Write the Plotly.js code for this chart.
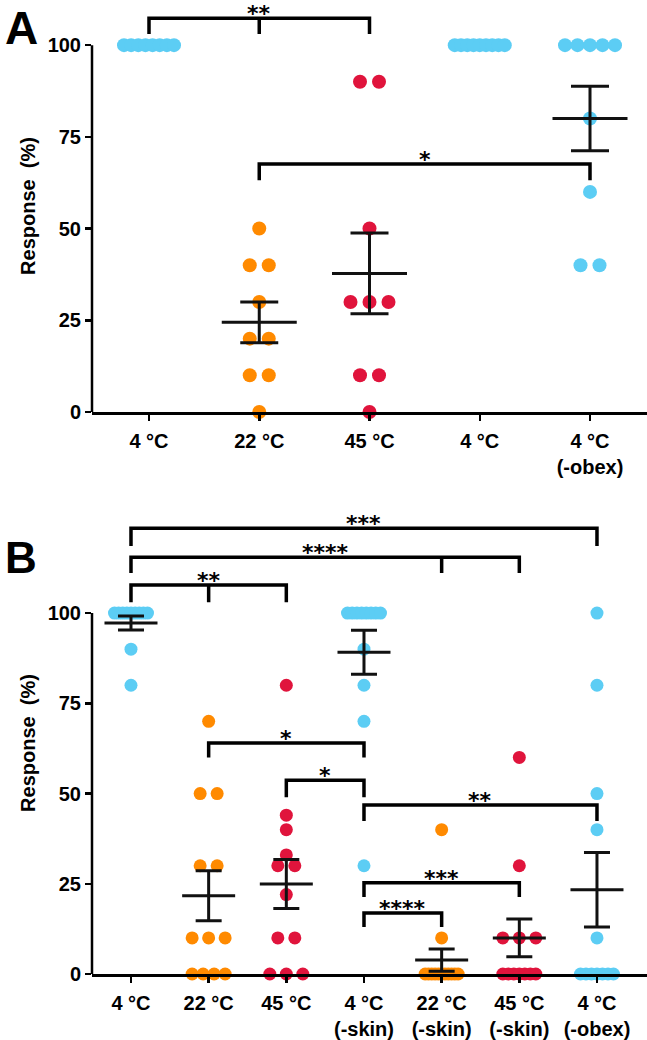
<!DOCTYPE html>
<html>
<head>
<meta charset="utf-8">
<script src="https://cdn.plot.ly/plotly-3.0.1.min.js"></script>
<style>html,body{margin:0;padding:0;background:#fff}</style>
</head>
<body>
<div id="chart" style="width:647px;height:1040px"></div>
<script>
// ---- panel A data ----
const catsA = ['4 °C', '22 °C', '45 °C', '4 °C', '4 °C<br>(-obex)'];
const colA = ['blue', 'orange', 'red', 'blue', 'blue'];
const a4 = [100, 100, 100, 100, 100, 100, 100, 100];
const a22 = [50, 40, 40, 30, 20, 20, 10, 10, 0];
const a45 = [90, 90, 50, 30, 30, 30, 10, 10, 0];
const a4b = [100, 100, 100, 100, 100, 100, 100, 100, 100];
const aObex = [100, 100, 100, 100, 100, 80, 60, 40, 40];
const groupsA = [a4, a22, a45, a4b, aObex];

// ---- panel B data ----
const catsB = ['4 °C', '22 °C', '45 °C', '4 °C<br>(-skin)', '22 °C<br>(-skin)', '45 °C<br>(-skin)', '4 °C<br>(-obex)'];
const colB = ['blue', 'orange', 'red', 'blue', 'orange', 'red', 'blue'];
const b4 = [100, 100, 100, 100, 100, 100, 100, 100, 100, 90, 80];
const b22 = [70, 50, 50, 30, 30, 10, 10, 10, 0, 0, 0, 0];
const b45 = [80, 44, 40, 33, 30, 30, 22, 10, 10, 0, 0, 0];
const b4s = [100, 100, 100, 100, 100, 100, 100, 100, 90, 80, 70, 30];
const b22s = [40, 10, 0, 0, 0, 0, 0, 0, 0, 0, 0, 0, 0];
const b45s = [60, 30, 10, 10, 10, 0, 0, 0, 0, 0, 0, 0];
const bObex = [100, 80, 50, 40, 10, 0, 0, 0, 0, 0, 0, 0];
const groupsB = [b4, b22, b45, b4s, b22s, b45s, bObex];

// significance brackets: [from, to, middle tick, bar level, leg end, label]
const bracketsA = [
  [0, 2, 1, 107.3, 103.0, '**'],
  [1, 4, null, 67.6, 63.2, '*']
];
const bracketsB = [
  [0, 6, null, 123.5, 118.6, '***'],
  [0, 5, 4, 115.5, 111.1, '****'],
  [0, 2, 1, 107.8, 103.0, '**'],
  [1, 3, null, 64.0, 60.0, '*'],
  [2, 3, null, 53.7, 49.0, '*'],
  [3, 6, null, 46.8, 42.4, '**'],
  [3, 5, null, 25.3, 21.3, '***'],
  [3, 4, null, 16.9, 13.0, '****']
];

const palette = {blue: '#5ccdf4', orange: '#ff8a00', red: '#e0143c'};
const fam = 'Liberation Sans, Arial, sans-serif';
const plotW = 647 - 92;
const rangeA = [-0.517, 4.517];
const rangeB = [-0.502, 6.644];

// spread equal values side by side, GraphPad style
function swarm(vals, center, ppu, gapPx, maxPx) {
  const rows = new Map();
  vals.forEach(v => rows.set(v, (rows.get(v) || 0) + 1));
  const x = [], y = [];
  rows.forEach((n, v) => {
    const step = n > 1 ? Math.min(gapPx, maxPx / (n - 1)) : 0;
    for (let j = 0; j < n; j++) {
      x.push(center + (j - (n - 1) / 2) * step / ppu);
      y.push(v);
    }
  });
  return {x, y};
}

function meanSem(vals) {
  const n = vals.length;
  const m = vals.reduce((s, v) => s + v, 0) / n;
  const sd = Math.sqrt(vals.reduce((s, v) => s + (v - m) * (v - m), 0) / (n - 1));
  return [m, sd / Math.sqrt(n)];
}

const traces = [];
const shapes = [];
const annotations = [];

function panel(groups, cols, xa, ya, range, opt) {
  const ppu = plotW / (range[1] - range[0]);
  groups.forEach((g, i) => {
    const s = swarm(g, i, ppu, opt.gap, opt.maxSpan);
    traces.push({
      x: s.x, y: s.y, xaxis: xa, yaxis: ya, type: 'scatter', mode: 'markers',
      cliponaxis: false, hoverinfo: 'skip',
      marker: {size: opt.dot, color: palette[cols[i]]}
    });
  });
  groups.forEach((g, i) => {
    const [m, se] = meanSem(g);
    if (se === 0) return;
    traces.push({
      x: [i], y: [m], xaxis: xa, yaxis: ya, type: 'scatter', mode: 'markers',
      cliponaxis: false, hoverinfo: 'skip',
      marker: {symbol: 'line-ew', size: opt.meanW / 1.4, line: {width: 3, color: '#111'}},
      error_y: {type: 'data', array: [se], visible: true, color: '#111', thickness: 3, width: opt.cap}
    });
  });
}

function brackets(list, xa, ya) {
  const xr = xa.replace('axis', ''), yr = ya.replace('axis', '');
  list.forEach(([f, t, mid, lv, leg, txt]) => {
    let p = `M${f},${leg} L${f},${lv} L${t},${lv} L${t},${leg}`;
    if (mid !== null) p += ` M${mid},${lv} L${mid},${leg}`;
    shapes.push({type: 'path', xref: xr, yref: yr, path: p, line: {width: 3.5, color: '#000'}});
    annotations.push({
      x: (f + t) / 2, y: lv, xref: xr, yref: yr, text: txt, showarrow: false,
      yanchor: 'bottom', yshift: -9, borderpad: 0,
      font: {family: 'DejaVu Sans', size: 22, color: '#000', weight: 'bold'}
    });
  });
}

panel(groupsA, colA, 'x', 'y', rangeA, {gap: 19, maxSpan: 50, dot: 14, meanW: 75, cap: 19});
panel(groupsB, colB, 'x2', 'y2', rangeB, {gap: 17, maxSpan: 33, dot: 13, meanW: 53, cap: 13});
brackets(bracketsA, 'x', 'y');
brackets(bracketsB, 'x2', 'y2');

// y axis lines only from 0 to 100
['y', 'y2'].forEach(yr => shapes.push({
  type: 'line', xref: 'paper', yref: yr, x0: 0, x1: 0, y0: 0, y1: 100,
  line: {width: 2.5, color: '#000'}
}));

annotations.push({xref: 'paper', yref: 'paper', x: -0.16, y: 1, xanchor: 'left', yanchor: 'top',
  text: 'A', showarrow: false, font: {family: fam, size: 46, color: '#000', weight: 'bold'}});
annotations.push({xref: 'paper', yref: 'paper', x: -0.16, y: 0.4548, xanchor: 'left', yanchor: 'top',
  text: 'B', showarrow: false, font: {family: fam, size: 44, color: '#000', weight: 'bold'}});

function xAxis(range, cats, anchor) {
  return {
    anchor: anchor, domain: [0, 1], range: range,
    tickvals: cats.map((c, i) => i), ticktext: cats,
    showline: true, linewidth: 2.5, linecolor: '#000',
    ticks: 'outside', ticklen: 6, tickwidth: 2.5, tickcolor: '#000',
    showgrid: false, zeroline: false, automargin: false, ticklabelstandoff: 3,
    tickfont: {family: fam, size: 20, color: '#000', weight: 'bold'}
  };
}
function yAxis(domain, top, anchor) {
  return {
    anchor: anchor, domain: domain, range: [0, top],
    tickvals: [0, 25, 50, 75, 100],
    showline: false, ticks: 'outside', ticklen: 6, tickwidth: 2.5, tickcolor: '#000',
    showgrid: false, zeroline: false, automargin: false,
    tickfont: {family: fam, size: 20, color: '#000', weight: 'bold'},
    title: {text: 'Response\u00a0 (%)', standoff: 6, font: {family: fam, size: 20, color: '#000', weight: 'bold'}}
  };
}

const layout = {
  width: 647, height: 1040,
  margin: {l: 92, r: 0, t: 0, b: 66},
  paper_bgcolor: '#fff', plot_bgcolor: '#fff',
  showlegend: false,
  xaxis: xAxis(rangeA, catsA, 'y'),
  yaxis: yAxis([0.577, 1], 112.3, 'x'),
  xaxis2: xAxis(rangeB, catsB, 'y2'),
  yaxis2: yAxis([0, 0.4743], 128, 'x2'),
  shapes: shapes,
  annotations: annotations
};

Plotly.newPlot('chart', traces, layout, {staticPlot: true});
</script>
</body>
</html>
